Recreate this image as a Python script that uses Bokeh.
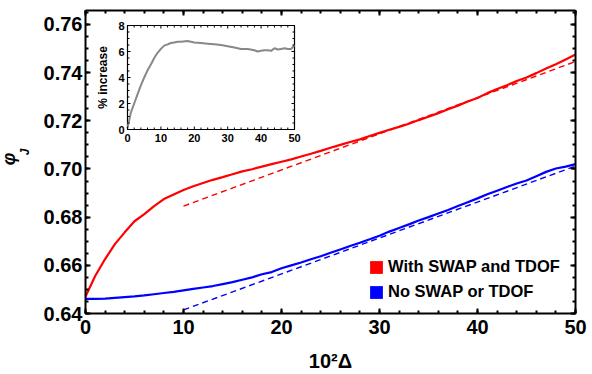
import math
from bokeh.plotting import figure
from bokeh.core.properties import value
from bokeh.models import (SingleIntervalTicker, LinearAxis, PrintfTickFormatter,
                          CustomJSTickFormatter, Title, Legend, LegendItem, Range1d)
from bokeh.embed import file_html
from bokeh.resources import INLINE

# ---------------- data ----------------
delta_x = list(range(0, 51))
with_swap = [0.6470, 0.6557, 0.6626, 0.6688, 0.6737, 0.6783, 0.6813, 0.6846, 0.6875, 0.6894,
             0.6913, 0.6928, 0.6942, 0.6955, 0.6966, 0.6978, 0.6990, 0.6999, 0.7010, 0.7020,
             0.7030, 0.7040, 0.7052, 0.7063, 0.7075, 0.7088, 0.7100, 0.7112, 0.7123, 0.7137,
             0.7150, 0.7163, 0.7175, 0.7188, 0.7203, 0.7217, 0.7232, 0.7248, 0.7263, 0.7280,
             0.7295, 0.7315, 0.7332, 0.7348, 0.7365, 0.7380, 0.7398, 0.7417, 0.7435, 0.7455,
             0.7475]
no_swap = [0.6461, 0.6461, 0.6462, 0.6465, 0.6468, 0.6471, 0.6475, 0.6480, 0.6485, 0.6490,
           0.6496, 0.6502, 0.6508, 0.6514, 0.6522, 0.6530, 0.6540, 0.6550, 0.6563, 0.6572,
           0.6588, 0.6600, 0.6612, 0.6625, 0.6638, 0.6652, 0.6666, 0.6680, 0.6694, 0.6708,
           0.6723, 0.6740, 0.6755, 0.6770, 0.6786, 0.6800, 0.6815, 0.6830, 0.6846, 0.6862,
           0.6878, 0.6895, 0.6910, 0.6925, 0.6940, 0.6952, 0.6970, 0.6988, 0.7002, 0.7010,
           0.7020]
fit_x = [10, 50]
with_swap_fit = [0.6846, 0.7446]
no_swap_fit = [0.6415, 0.7012]

inset_x = [0, 1, 2, 3, 4, 5, 6, 7, 8, 9, 10, 11, 12, 13, 14, 15, 16, 18, 20, 22, 24, 26, 28,
           30, 32, 34, 36, 38, 39, 40, 41, 42, 43, 44, 45, 46, 47, 48, 49, 50]
inset_pct = [0.1, 1.3, 2.0, 2.7, 3.4, 4.0, 4.55, 5.0, 5.5, 5.9, 6.2, 6.45, 6.55, 6.65, 6.7,
             6.75, 6.75, 6.8, 6.7, 6.65, 6.6, 6.55, 6.5, 6.4, 6.3, 6.2, 6.2, 6.1, 6.0, 6.05,
             6.1, 6.1, 6.05, 6.25, 6.15, 6.2, 6.25, 6.2, 6.2, 6.5]
inset_xlim = (0, 50)
inset_ylim = (0, 8)
inset_xticks = [0, 10, 20, 30, 40, 50]
inset_xtick_labels = ["0", "10", "20", "30", "40", "50"]
inset_yticks = [0, 2, 4, 6, 8]
inset_ytick_labels = ["0", "2", "4", "6", "8"]
inset_xminor = [2, 4, 6, 8, 12, 14, 16, 18, 22, 24, 26, 28, 32, 34, 36, 38, 42, 44, 46, 48]
inset_yminor = [0.5, 1, 1.5, 2.5, 3, 3.5, 4.5, 5, 5.5, 6.5, 7, 7.5]

legend_labels = ["With SWAP and TDOF", "No SWAP or TDOF"]
x_label = "10\u00b2\u0394"
y_label_main = "\u03c6"
y_label_sub = "J"
inset_y_label = "% increase"

FONT = "Liberation Sans"
RED = "#ff0000"
BLUE = "#0000ff"
GREY = "#888888"

# layout geometry (pixels)
W, H = 592, 374
BL, BR, BT, BB = 85, 17, 10, 61
FW, FH = W - BL - BR, H - BT - BB
INS_LEFT, INS_TOP, INS_W, INS_H = 42, 15, 167, 104   # inset frame, relative to main frame


def style_axis(ax, major_in, minor_in, line_w, tick_w, font_size, standoff):
    ax.axis_line_color = "black"
    ax.axis_line_width = line_w
    ax.major_tick_in = major_in
    ax.major_tick_out = 0
    ax.minor_tick_in = minor_in
    ax.minor_tick_out = 0
    ax.major_tick_line_width = tick_w
    ax.minor_tick_line_width = tick_w
    ax.major_tick_line_color = "black"
    ax.minor_tick_line_color = "black"
    ax.major_label_text_font = FONT
    ax.major_label_text_font_style = "bold"
    ax.major_label_text_font_size = font_size
    ax.major_label_text_color = "black"
    ax.major_label_standoff = standoff


# ---------------- main figure ----------------
p = figure(width=W, height=H, output_backend="svg", toolbar_location=None,
           x_range=Range1d(0, 50), y_range=Range1d(0.64, 0.7658),
           min_border_left=BL, min_border_right=BR, min_border_top=BT, min_border_bottom=BB)
p.xgrid.visible = False
p.ygrid.visible = False
p.outline_line_color = None
p.background_fill_color = "white"
p.border_fill_color = "white"

p.xaxis.ticker = SingleIntervalTicker(interval=10, num_minor_ticks=5)
p.yaxis.ticker = SingleIntervalTicker(interval=0.02, num_minor_ticks=4)
p.yaxis.formatter = PrintfTickFormatter(format="%.2f")
style_axis(p.xaxis[0], 5, 3, 2, 2, "20px", 6)
style_axis(p.yaxis[0], 5, 3, 2, 2, "20px", 3)

p.xaxis.axis_label = x_label
p.xaxis.axis_label_text_font = FONT
p.xaxis.axis_label_text_font_style = "bold"
p.xaxis.axis_label_text_font_size = "20px"
p.xaxis.axis_label_text_color = "black"
p.xaxis.axis_label_standoff = 13

empty = CustomJSTickFormatter(code="return ''")
top_ax = LinearAxis(ticker=SingleIntervalTicker(interval=10, num_minor_ticks=5), formatter=empty)
right_ax = LinearAxis(ticker=SingleIntervalTicker(interval=0.02, num_minor_ticks=4), formatter=empty)
for ax in (top_ax, right_ax):
    style_axis(ax, 5, 3, 2, 2, "1px", 0)
p.add_layout(top_ax, "above")
p.add_layout(right_ax, "right")

# y label phi_J as two vertical titles in the left panel (subscript nearer the axis)
p.add_layout(Title(text=y_label_sub, align="right", offset=138, standoff=14, vertical_align="top",
                   text_font=FONT, text_font_style="bold italic", text_font_size="12px",
                   text_color="black"), "left")
p.add_layout(Title(text=y_label_main, align="right", offset=142, standoff=-16,
                   text_font=FONT, text_font_style="bold italic", text_font_size="18px",
                   text_color="black"), "left")

p.line(delta_x, with_swap, line_color=RED, line_width=2.2)
p.line(delta_x, no_swap, line_color=BLUE, line_width=2.2)
p.line(fit_x, with_swap_fit, line_color=RED, line_width=1.4, line_dash="6 4")
p.line(fit_x, no_swap_fit, line_color=BLUE, line_width=1.4, line_dash="6 4")

# legend
nan = float("nan")
r_red = p.quad(left=[nan], right=[nan], top=[nan], bottom=[nan], fill_color=RED, line_color=None)
r_blue = p.quad(left=[nan], right=[nan], top=[nan], bottom=[nan], fill_color=BLUE, line_color=None)
legend = Legend(items=[LegendItem(label=legend_labels[0], renderers=[r_red]),
                       LegendItem(label=legend_labels[1], renderers=[r_blue])],
                location=(283, 12), orientation="vertical",
                glyph_width=16, glyph_height=16, label_height=16, label_standoff=4,
                spacing=6, padding=0, margin=0,
                background_fill_alpha=0, border_line_alpha=0,
                label_text_font=FONT, label_text_font_style="bold",
                label_text_font_size="16.5px", label_text_color="black")
p.add_layout(legend, "center")

# ---------------- inset (drawn in the main frame through its own ranges) ----------------
sx = INS_W / (inset_xlim[1] - inset_xlim[0])
sy = INS_H / (inset_ylim[1] - inset_ylim[0])
ix0 = inset_xlim[0] - INS_LEFT / sx
iy0 = inset_ylim[0] - (FH - INS_TOP - INS_H) / sy
p.extra_x_ranges = {"ix": Range1d(ix0, ix0 + FW / sx)}
p.extra_y_ranges = {"iy": Range1d(iy0, iy0 + FH / sy)}
kw = dict(x_range_name="ix", y_range_name="iy")

p.quad(left=[inset_xlim[0]], right=[inset_xlim[1]], bottom=[inset_ylim[0]], top=[inset_ylim[1]],
       fill_color="white", line_color="black", line_width=1.2, **kw)
p.line(inset_x, inset_pct, line_color=GREY, line_width=2, **kw)

# inset ticks (inward)
for ticks, ln in ((inset_xticks, 3), (inset_xminor, 2)):
    p.ray(x=ticks, y=[inset_ylim[0]] * len(ticks), length=ln, length_units="screen",
          angle=math.pi / 2, line_color="black", line_width=1, **kw)
    p.ray(x=ticks, y=[inset_ylim[1]] * len(ticks), length=ln, length_units="screen",
          angle=-math.pi / 2, line_color="black", line_width=1, **kw)
for ticks, ln in ((inset_yticks, 3), (inset_yminor, 2)):
    p.ray(x=[inset_xlim[0]] * len(ticks), y=ticks, length=ln, length_units="screen",
          angle=0, line_color="black", line_width=1, **kw)
    p.ray(x=[inset_xlim[1]] * len(ticks), y=ticks, length=ln, length_units="screen",
          angle=math.pi, line_color="black", line_width=1, **kw)

txt = dict(text_font=value(FONT), text_font_style="bold", text_color="black")
p.text(x=inset_xticks, y=[inset_ylim[0]] * len(inset_xticks), text=inset_xtick_labels,
       text_align="center", text_baseline="top", y_offset=4, text_font_size="11px", **txt, **kw)
p.text(x=[inset_xlim[0]] * len(inset_yticks), y=inset_yticks, text=inset_ytick_labels,
       text_align="right", text_baseline="middle", x_offset=-3, text_font_size="11px", **txt, **kw)
p.text(x=[inset_xlim[0]], y=[(inset_ylim[0] + inset_ylim[1]) / 2], text=[inset_y_label],
       angle=math.pi / 2, text_align="center", text_baseline="middle", x_offset=-25,
       text_font_size="12px", **txt, **kw)

open("out.html", "w").write(file_html(p, INLINE))
